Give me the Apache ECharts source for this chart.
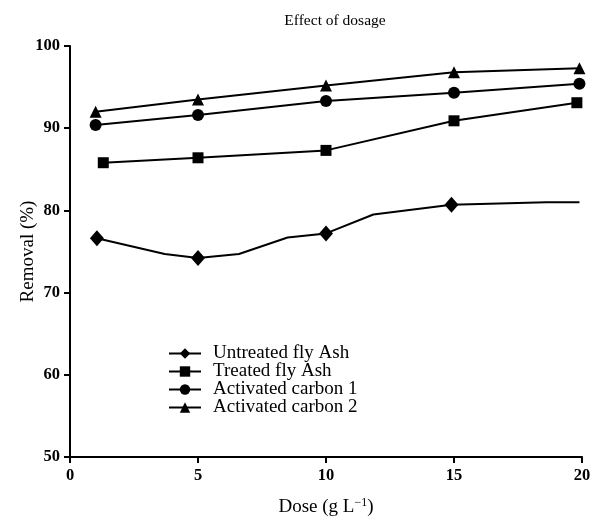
<!DOCTYPE html>
<html>
<head>
<meta charset="utf-8">
<script src="https://cdn.jsdelivr.net/npm/echarts@6/dist/echarts.min.js"></script>
<style>
  html, body { margin: 0; padding: 0; background: #fff; }
  #chart { width: 592px; height: 519px; }
</style>
</head>
<body>
<div id="chart"></div>
<script>
(() => {
    'use strict'

    // values
    const seriesNames = ['Untreated fly Ash', 'Treated fly Ash', 'Activated carbon 1', 'Activated carbon 2']
    const xTicks = [0, 5, 10, 15, 20]
    const yTicks = [50, 60, 70, 80, 90, 100]

    // untreated line has bends between its markers; marked = point drawn with a symbol
    const untreatedDose = [1.05, 3.7, 5.0, 6.6, 8.5, 10.0, 11.85, 14.9, 18.6, 19.9]
    const untreatedVal = [76.6, 74.7, 74.2, 74.7, 76.7, 77.2, 79.5, 80.7, 81.0, 81.0]
    const untreatedMarked = [true, false, true, false, false, true, false, true, false, false]

    const treatedDose = [1.3, 5.0, 10.0, 15.0, 19.8]
    const treatedVal = [85.8, 86.4, 87.3, 90.9, 93.1]

    const carbon1Dose = [1.0, 5.0, 10.0, 15.0, 19.9]
    const carbon1Val = [90.4, 91.6, 93.3, 94.3, 95.4]

    const carbon2Dose = [1.0, 5.0, 10.0, 15.0, 19.9]
    const carbon2Val = [92.0, 93.5, 95.2, 96.8, 97.3]

    const FONT = '"Liberation Serif", "Times New Roman", serif'
    const BLACK = '#000'

    const pairs = (xs, ys) => xs.map((x, i) => [x, ys[i]])

    const untreatedData = untreatedDose.map((x, i) => {
        const item = {value: [x, untreatedVal[i]]}
        if (!untreatedMarked[i]) item.symbol = 'none'
        return item
    })

    const lineSeries = (name, data, symbol, size) => ({
        name: name,
        type: 'line',
        data: data,
        symbol: symbol,
        symbolSize: size,
        showAllSymbol: true,
        itemStyle: {color: BLACK},
        lineStyle: {color: BLACK, width: 2},
        emphasis: {disabled: true},
        animation: false
    })

    const options = {
        animation: false,
        backgroundColor: '#fff',
        title: {
            text: 'Effect of dosage',
            left: 330,
            top: 8,
            textAlign: 'center',
            textStyle: {fontFamily: FONT, fontSize: 15.5, fontWeight: 'normal', color: BLACK}
        },
        legend: {
            orient: 'vertical',
            left: 163,
            top: 339,
            itemWidth: 32,
            itemHeight: 13,
            itemGap: -1,
            selectedMode: false,
            data: seriesNames,
            textStyle: {fontFamily: FONT, fontSize: 19, color: BLACK, padding: [0, 0, 0, 7]}
        },
        grid: {
            left: 70,
            right: 10,
            top: 46,
            bottom: 62,
            containLabel: false,
            outerBoundsMode: 'none'
        },
        xAxis: {
            type: 'value',
            min: xTicks[0],
            max: xTicks[xTicks.length - 1],
            interval: 5,
            splitLine: {show: false},
            axisLine: {lineStyle: {color: BLACK, width: 2}},
            axisTick: {length: 6, lineStyle: {color: BLACK, width: 2}},
            axisLabel: {fontFamily: FONT, fontSize: 16.5, fontWeight: 'bold', color: BLACK, margin: 10},
            name: 'Dose (g L{sup|−1})',
            nameLocation: 'middle',
            nameGap: 40,
            nameMoveOverlap: false,
            nameTextStyle: {
                fontFamily: FONT, fontSize: 19, color: BLACK,
                rich: {sup: {fontFamily: FONT, fontSize: 12, color: BLACK, padding: [0, 0, 9, 0]}}
            }
        },
        yAxis: {
            type: 'value',
            min: yTicks[0],
            max: yTicks[yTicks.length - 1],
            interval: 10,
            splitLine: {show: false},
            axisLine: {show: true, lineStyle: {color: BLACK, width: 2}},
            axisTick: {show: true, length: 6, lineStyle: {color: BLACK, width: 2}},
            axisLabel: {fontFamily: FONT, fontSize: 16.5, fontWeight: 'bold', color: BLACK, margin: 10},
            name: 'Removal (%)',
            nameLocation: 'middle',
            nameGap: 32,
            nameMoveOverlap: false,
            nameTextStyle: {fontFamily: FONT, fontSize: 19, color: BLACK}
        },
        series: [
            lineSeries(seriesNames[0], untreatedData, 'diamond', [14, 16]),
            lineSeries(seriesNames[1], pairs(treatedDose, treatedVal), 'rect', 11),
            lineSeries(seriesNames[2], pairs(carbon1Dose, carbon1Val), 'circle', 12),
            lineSeries(seriesNames[3], pairs(carbon2Dose, carbon2Val), 'triangle', 12)
        ]
    }

    const chart = echarts.init(document.getElementById('chart'), null, {renderer: 'canvas'})
    chart.setOption(options)
})()
</script>
</body>
</html>
